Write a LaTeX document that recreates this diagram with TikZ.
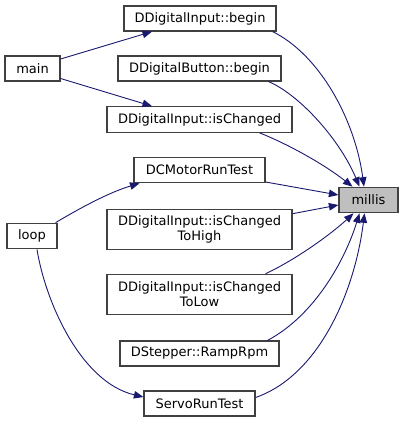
\documentclass[tikz,border=0pt]{standalone}
\usepackage{fontspec}
\setmainfont{DejaVu Sans}
\usetikzlibrary{arrows.meta}
\definecolor{edgeblue}{HTML}{191970}
\definecolor{boxborder}{HTML}{404040}
\definecolor{hilite}{HTML}{BFBFBF}
\tikzset{
  fn/.style={draw=boxborder, line width=1.2pt, fill=white, inner sep=0pt, align=center,
    font=\fontsize{13}{15}\selectfont},
  cur/.style={fn, fill=hilite},
  edge/.style={draw=edgeblue, line width=0.9pt, -{Triangle[length=9.5pt,width=7.5pt]}}
}
\begin{document}
\begin{tikzpicture}[x=1pt,y=-1pt]
\useasboundingbox (0,0) rectangle (404,423);
\node[fn, minimum width=152pt, minimum height=25pt] (dib) at (200,18.5) {DDigitalInput::begin};
\node[fn, minimum width=55pt, minimum height=25pt] (main) at (32.5,68.5) {main};
\node[fn, minimum width=163pt, minimum height=25pt] (ddb) at (199.5,68.5) {DDigitalButton::begin};
\node[fn, minimum width=185pt, minimum height=25.5pt] (isc) at (199.5,119.5) {DDigitalInput::isChanged};
\node[fn, minimum width=131pt, minimum height=25.5pt] (dcm) at (199.5,170) {DCMotorRunTest};
\node[cur, minimum width=59pt, minimum height=25.5pt] (millis) at (368.5,200) {millis};
\node[fn, minimum width=50pt, minimum height=25.5pt] (loop) at (32,236) {loop};
\node[fn, minimum width=185pt, minimum height=40pt] (isch) at (199.5,229.2) {DDigitalInput::isChanged\\ToHigh};
\node[fn, minimum width=185pt, minimum height=40pt] (iscl) at (199.5,294.3) {DDigitalInput::isChanged\\ToLow};
\node[fn, minimum width=159pt, minimum height=25pt] (ramp) at (199.5,353.5) {DStepper::RampRpm};
\node[fn, minimum width=111pt, minimum height=25pt] (servo) at (199.5,403.5) {ServoRunTest};

% callers
\draw[edge] ([yshift=9.5pt]main.east) -- ([xshift=-48pt]dib.south);
\draw[edge] ([yshift=-10pt]main.east) -- ([xshift=-47.5pt]isc.north);
\draw[edge] ([xshift=-2pt]loop.north east) .. controls (80,208) and (110,192) .. ([xshift=-60pt]dcm.south);
\draw[edge] ([xshift=5pt]loop.south) .. controls (45,300) and (80,382) .. ([yshift=6.5pt]servo.west);

% to millis
\draw[edge] ([xshift=-4pt]dib.south east) .. controls (320,55) and (355,120) .. ([xshift=-4.5pt]millis.north);
\draw[edge] ([xshift=-13pt]ddb.south east) .. controls (300,95) and (340,140) .. ([xshift=-9pt]millis.north);
\draw[edge] ([xshift=-33pt]isc.south east) .. controls (290,145) and (325,165) .. ([xshift=-16pt]millis.north);
\draw[edge] ([yshift=-12pt]dcm.east) -- ([yshift=5pt]millis.west);
\draw[edge] ([yshift=15.5pt]isch.east) -- ([yshift=-5pt]millis.west);
\draw[edge] ([xshift=-27pt]iscl.north east) .. controls (295,260) and (330,235) .. ([xshift=-15pt]millis.south);
\draw[edge] ([xshift=-12pt]ramp.north east) .. controls (315,315) and (345,260) .. ([xshift=-9pt]millis.south);
\draw[edge] ([yshift=6pt]servo.east) .. controls (320,375) and (355,290) .. ([xshift=-4pt]millis.south);
\end{tikzpicture}
\end{document}
